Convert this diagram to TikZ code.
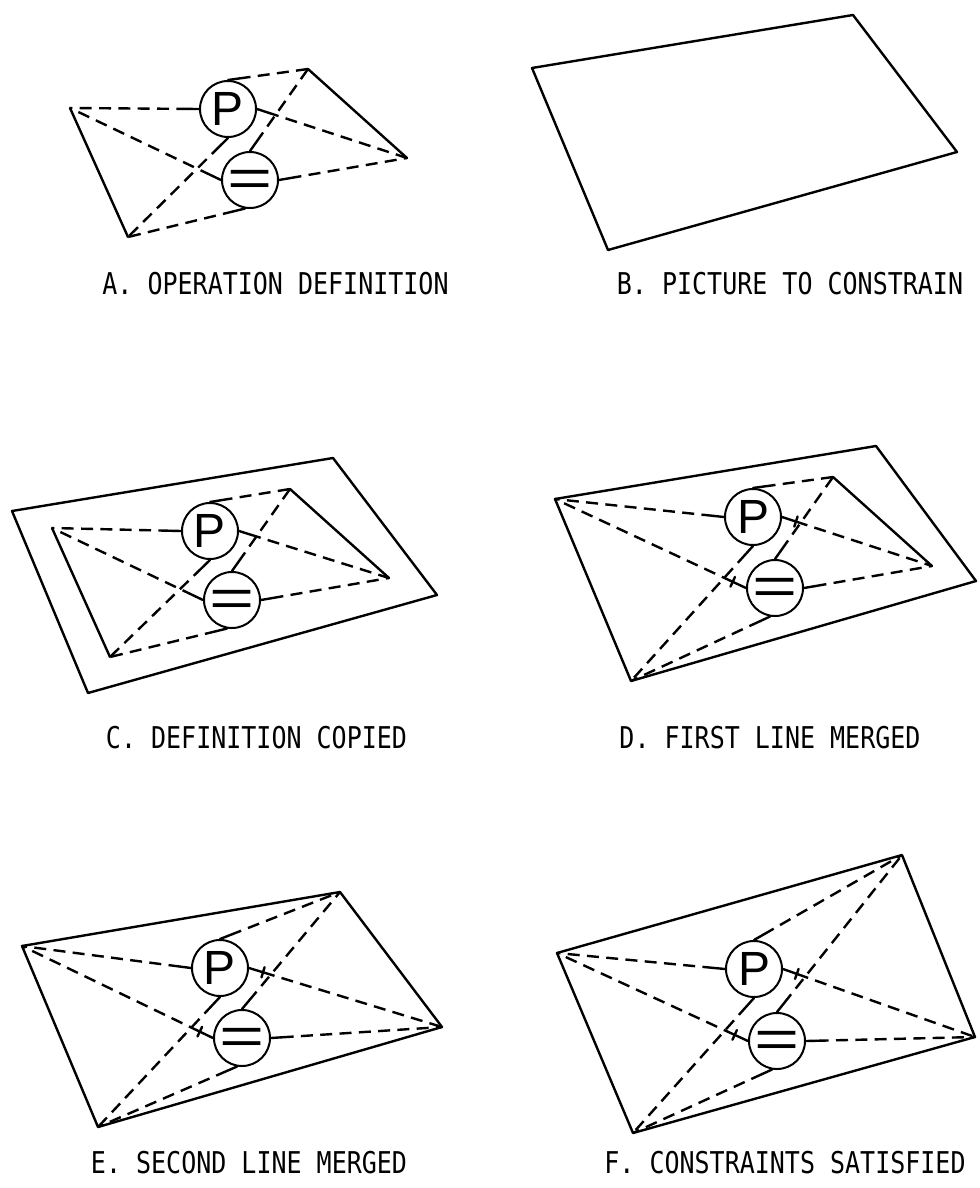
\documentclass[tikz,border=0pt]{standalone}
\usepackage{fontspec}
\usepackage{graphicx}
\usetikzlibrary{calc}
\newfontfamily\labfont{DejaVu Sans Mono}
\newfontfamily\symfont{Liberation Sans}
\tikzset{
  solidl/.style={line width=1.8pt, line cap=round, line join=round},
  dashl/.style={line width=1.8pt, dash pattern=on 9pt off 5.5pt},
  con/.style={circle, draw, line width=1.5pt, minimum size=42pt, inner sep=0pt},
  ptext/.style={font=\symfont\fontsize{36pt}{40pt}\selectfont, inner sep=0pt},
  etext/.style={font=\symfont\fontsize{40pt}{46pt}\selectfont, inner sep=0pt},
  caption/.style={font=\labfont\fontsize{18.75pt}{20pt}\selectfont, inner sep=0pt},
}
\newcommand{\cnlead}[2]{%
  \draw[solidl] (#1) -- ($(#1)!8pt!(#2)$) coordinate (tmpc);
  \draw[dashl] (tmpc) -- (#2);}
\newcommand{\cntlead}[2]{%
  \draw[solidl] (#1) -- ($(#1)!11pt!(#2)$) coordinate (tmpc);
  \draw[solidl] ($(tmpc)!4pt!90:(#2)$) -- ($(tmpc)!4pt!-90:(#2)$);
  \draw[dashl] (tmpc) -- (#2);}
\newcommand{\cnetplain}[1]{%
  \cnlead{P#1.west}{TL#1}\cnlead{P#1.north}{TR#1}\cnlead{P#1.east}{R#1}\cnlead{P#1.south}{BL#1}%
  \cnlead{E#1.west}{TL#1}\cnlead{E#1.north}{TR#1}\cnlead{E#1.east}{R#1}\cnlead{E#1.-100}{BL#1}}
\newcommand{\cnettick}[1]{%
  \cnlead{P#1.west}{TL#1}\cnlead{P#1.north}{TR#1}\cntlead{P#1.east}{R#1}\cnlead{P#1.south}{BL#1}%
  \cntlead{E#1.west}{TL#1}\cnlead{E#1.north}{TR#1}\cnlead{E#1.east}{R#1}\cnlead{E#1.-100}{BL#1}}
\newcommand{\cnodes}[3]{%
  \node[con] (P#1) at (#2) {};
  \node[ptext] (PT#1) at (P#1) {P};
  \node[con] (E#1) at (#3) {};
  \node[etext] (ET#1) at ($(E#1)+(0,3)$) {\scalebox{1.45}[1]{=}};}
\begin{document}
\begin{tikzpicture}[x=0.75pt, y=-0.75pt]
\useasboundingbox (0,0) rectangle (980,1188);

% ---------- A ----------
\coordinate (TLa) at (70,108);
\coordinate (TRa) at (308,69);
\coordinate (Ra)  at (407,158);
\coordinate (BLa) at (128,237);
\cnodes{a}{228,109}{250,180}
\draw[solidl] (TLa) -- (BLa);
\draw[solidl] (TRa) -- (Ra);
\cnetplain{a}
\node[caption] (capA) at (275.5,284) {\scalebox{1}[1.2]{A. OPERATION DEFINITION}};

% ---------- B ----------
\coordinate (TLb) at (532,68);
\coordinate (TRb) at (853,15);
\coordinate (Rb)  at (957,152);
\coordinate (BLb) at (608,250);
\draw[solidl] (TLb) -- (TRb) -- (Rb) -- (BLb) -- cycle;
\node[caption] (capB) at (790,284) {\scalebox{1}[1.2]{B. PICTURE TO CONSTRAIN}};

% ---------- C ----------
\coordinate (TLco) at (12,511);
\coordinate (TRco) at (333,458);
\coordinate (Rco)  at (437,595);
\coordinate (BLco) at (88,693);
\draw[solidl] (TLco) -- (TRco) -- (Rco) -- (BLco) -- cycle;
\coordinate (TLc) at (52,528);
\coordinate (TRc) at (290,489);
\coordinate (Rc)  at (389,578);
\coordinate (BLc) at (110,657);
\cnodes{c}{210,531}{232,600}
\draw[solidl] (TLc) -- (BLc);
\draw[solidl] (TRc) -- (Rc);
\cnetplain{c}
\node[caption] (capC) at (256.5,738) {\scalebox{1}[1.2]{C. DEFINITION COPIED}};

% ---------- D ----------
\coordinate (TLd) at (555,499);
\coordinate (TRdo) at (876,446);
\coordinate (Rdo)  at (976,581);
\coordinate (BLd) at (631,681);
\draw[solidl] (TLd) -- (TRdo) -- (Rdo) -- (BLd) -- cycle;
\coordinate (TRd) at (833,477);
\coordinate (Rd)  at (932,566);
\cnodes{d}{753,517}{775,588}
\draw[solidl] (TRd) -- (Rd);
\cnettick{d}
\node[caption] (capD) at (770,738) {\scalebox{1}[1.2]{D. FIRST LINE MERGED}};

% ---------- E ----------
\coordinate (TLe) at (22,946);
\coordinate (TRe) at (340,892);
\coordinate (Re)  at (442,1027);
\coordinate (BLe) at (98,1127);
\draw[solidl] (TLe) -- (TRe) -- (Re) -- (BLe) -- cycle;
\cnodes{e}{220,968}{242,1038}
\cnettick{e}
\node[caption] (capE) at (249,1163) {\scalebox{1}[1.2]{E. SECOND LINE MERGED}};

% ---------- F ----------
\coordinate (TLf) at (557,953);
\coordinate (TRf) at (902,855);
\coordinate (Rf)  at (975,1037);
\coordinate (BLf) at (633,1133);
\draw[solidl] (TLf) -- (TRf) -- (Rf) -- (BLf) -- cycle;
\cnodes{f}{754,969}{777,1041}
\cnettick{f}
\node[caption] (capF) at (785,1163) {\scalebox{1}[1.2]{F. CONSTRAINTS SATISFIED}};
\end{tikzpicture}
\end{document}
